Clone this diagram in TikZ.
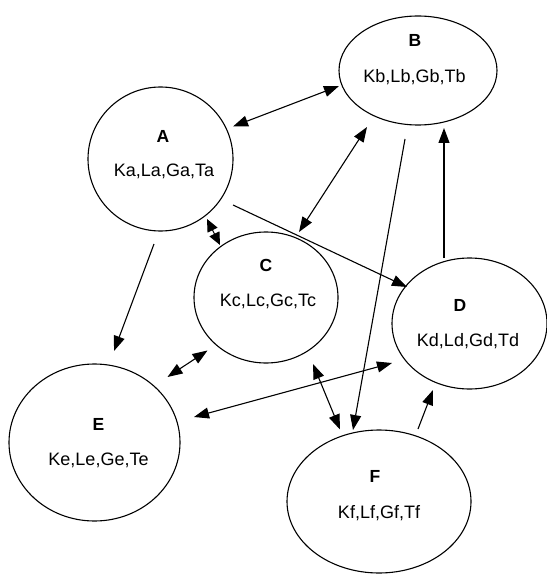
\documentclass[tikz,border=0pt]{standalone}
\usepackage{fontspec}
\setmainfont{Liberation Sans}
\usetikzlibrary{shapes.geometric,arrows.meta}
\tikzset{
  state/.style={draw=black, ellipse, inner sep=0pt, line width=1.1bp},
  ttl/.style={font=\fontsize{17.5bp}{20bp}\selectfont\bfseries, anchor=base, inner sep=0pt},
  vars/.style={font=\fontsize{18bp}{20bp}\selectfont, anchor=base, inner sep=0pt},
  conn/.style={line width=1.1bp, -{Triangle[length=15bp,width=11bp]}},
  dconn/.style={line width=1.1bp, {Triangle[length=15bp,width=11bp]}-{Triangle[length=15bp,width=11bp]}},
  sconn/.style={line width=1.1bp, {Triangle[length=12.5bp,width=11bp]}-{Triangle[length=12.5bp,width=11bp]}}
}
\begin{document}
\begin{tikzpicture}[x=1bp,y=-1bp]
\useasboundingbox (0,0) rectangle (547,575);
% ellipses
\node[state, minimum width=145bp, minimum height=144bp] (A) at (160.5,159) {};
\node[state, minimum width=158bp, minimum height=109bp] (B) at (418,70.5) {};
\node[state, minimum width=144bp, minimum height=131bp] (C) at (266,297.5) {};
\node[state, minimum width=155bp, minimum height=131bp] (D) at (469.5,323.5) {};
\node[state, minimum width=171bp, minimum height=157bp] (E) at (94.5,442.5) {};
\node[state, minimum width=184bp, minimum height=143bp] (F) at (379,501.5) {};
% labels
\node[ttl] (At) at (163,143) {A};
\node[vars] (Av) at (164,176.5) {Ka,La,Ga,Ta};
\node[ttl] (Bt) at (415,46.5) {B};
\node[vars] (Bv) at (414.5,83) {Kb,Lb,Gb,Tb};
\node[ttl] (Ct) at (266,271.5) {C};
\node[vars] (Cv) at (268,306) {Kc,Lc,Gc,Tc};
\node[ttl] (Dt) at (460,311) {D};
\node[vars] (Dv) at (468,346.5) {Kd,Ld,Gd,Td};
\node[ttl] (Et) at (98.5,430) {E};
\node[vars] (Ev) at (98.5,465) {Ke,Le,Ge,Te};
\node[ttl] (Ft) at (375,482) {F};
\node[vars] (Fv) at (379,518) {Kf,Lf,Gf,Tf};
% connectors
\draw[dconn] ([shift={(72.5,-32.5)}]A.center) -- ([shift={(-79,15.5)}]B.center);
\draw[dconn] ([shift={(-51,56.5)}]B.center) -- ([shift={(33,-65.5)}]C.center);
\draw[sconn] ([shift={(46.5,60)}]A.center) -- ([shift={(-46,-52.5)}]C.center);
\draw[conn] ([shift={(72.5,46)}]A.center) -- ([shift={(-62.5,-36.5)}]D.center);
\draw[conn] ([shift={(-13,68.5)}]B.center) -- ([shift={(-26,-71.5)}]F.center);
\draw[conn] ([shift={(-25.5,-65.5)}]D.center) -- ([shift={(26,57.5)}]B.center);
\draw[conn] ([shift={(-6.5,85)}]A.center) -- ([shift={(19.5,-91.5)}]E.center);
\draw[dconn] ([shift={(-58.5,53)}]C.center) -- ([shift={(73,-65.5)}]E.center);
\draw[dconn] ([shift={(99.5,-25.5)}]E.center) -- ([shift={(-77.5,39.5)}]D.center);
\draw[dconn] ([shift={(47,66.5)}]C.center) -- ([shift={(-39,-72)}]F.center);
\draw[conn] ([shift={(39,-72.5)}]F.center) -- ([shift={(-36.5,66.5)}]D.center);
\end{tikzpicture}
\end{document}
